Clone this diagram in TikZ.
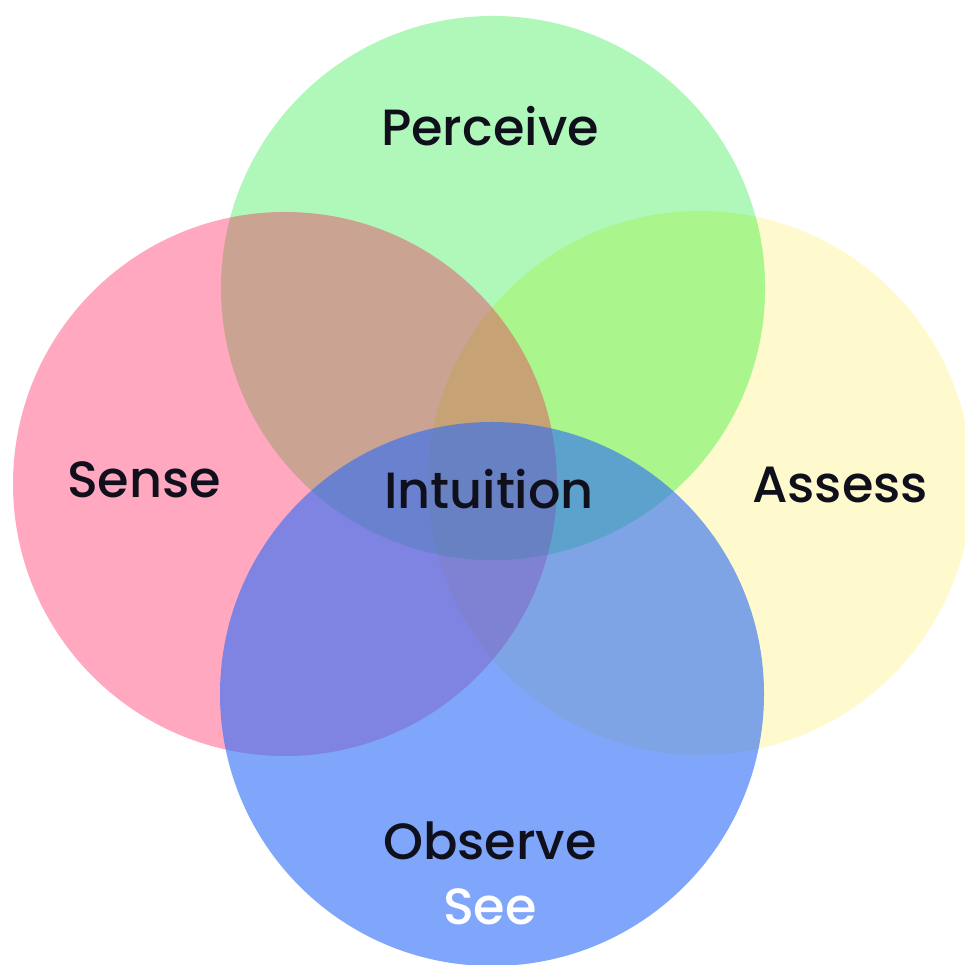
\documentclass[tikz,border=0pt]{standalone}
\usepackage{fontspec}
\usepackage{xcolor}
\newfontfamily\vennfont{Poppins Medium}
\definecolor{senseC}{RGB}{255,6,75}
\definecolor{perceiveC}{RGB}{176,248,186}
\definecolor{assessC}{RGB}{255,250,205}
\definecolor{limeC}{RGB}{170,246,140}
\definecolor{observeC}{RGB}{42,107,247}
\definecolor{inkC}{RGB}{16,16,28}

\begin{document}
\begin{tikzpicture}[
        font=\vennfont\fontsize{14.5}{17}\selectfont,
        lbl/.style={anchor=base, text=inkC, inner sep=0pt},
        disc/.style={radius=2.72}
    ]
        \fill[white] (0,0) rectangle (9.64,9.65);
        \useasboundingbox (0,0) rectangle (9.64,9.65);
        % circle centres
        \coordinate (sense) at (2.85,4.81);
        \coordinate (perceive) at (4.93,6.77);
        \coordinate (assess) at (7.00,4.82);
        \coordinate (observe) at (4.92,2.71);
        % circles
        \fill[assessC] (assess) circle[disc];
        \fill[perceiveC] (perceive) circle[disc];
        \begin{scope}
            \clip (assess) circle[disc];
            \fill[limeC] (perceive) circle[disc];
        \end{scope}
        \fill[senseC, fill opacity=.35] (sense) circle[disc];
        \fill[observeC, fill opacity=.6] (observe) circle[disc];
        % labels
        \node[lbl] (perceiveL) at (4.90,8.19) {Perceive};
        \node[lbl] (senseL) at (1.44,4.67) {Sense};
        \node[lbl] (intuitionL) at (4.89,4.56) {Intuition};
        \node[lbl] (assessL) at (8.40,4.62) {Assess};
        \node[lbl] (observeL) at (4.90,1.05) {Observe};
        \node[lbl, text=white] (seeL) at (4.90,0.40) {See};
    \end{tikzpicture}
\end{document}
